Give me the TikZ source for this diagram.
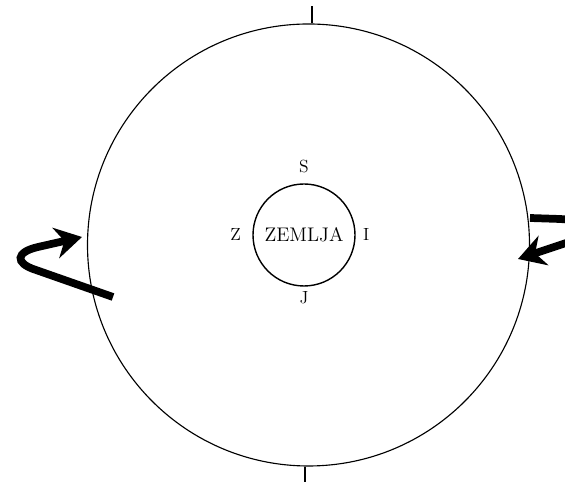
\documentclass[tikz,border=0pt]{standalone}
\usepackage{tikz}
\usetikzlibrary{arrows.meta, positioning}

\begin{document}
\begin{tikzpicture}[x=0.025cm, y=0.025cm, >=Stealth,
    ring/.style={circle, draw, line width=0.8pt, inner sep=0pt},
    side/.style={font=\fontsize{12.5}{14}\selectfont, inner sep=2pt},
    spin/.style={line width=5.5pt, -{Stealth[length=19pt, width=22pt]}}]

  % --- frame of the page ---
  \useasboundingbox (0,0) rectangle (565,484);
  \clip (0,0) rectangle (565,484);

  % --- outer sphere ---
  \node[ring, minimum size=442*0.025cm] (sky) at (308.5,239) {};
  \draw[line width=1.5pt] (sky.89) -- ++(0,17);
  \draw[line width=1.5pt] (sky.269) -- ++(0,-15);

  % --- earth and its sides ---
  \node[ring, line width=1pt, minimum size=102*0.025cm,
        font=\fontsize{14}{16}\selectfont] (earth) at (304,249) {ZEMLJA};
  \node[side, above=5pt of earth] (north) {S};
  \node[side, left=6pt of earth]  (west)  {Z};
  \node[side, right=3pt of earth] (east)  {I};
  \node[side, below=1pt of earth] (south) {J};

  % --- turning arrows ---
  \coordinate (ltail) at (113,187);
  \coordinate (ltip)  at (82,247);
  \draw[spin] (ltail) -- (36,214) .. controls (14,221) and (16,232) .. (38,237) -- (ltip);

  \coordinate (rtail) at (530,266);
  \coordinate (rtip)  at (518,225);
  \draw[spin] (rtail) -- (560,265) .. controls (590,264) and (588,244) .. (566,241) -- (rtip);

\end{tikzpicture}
\end{document}
